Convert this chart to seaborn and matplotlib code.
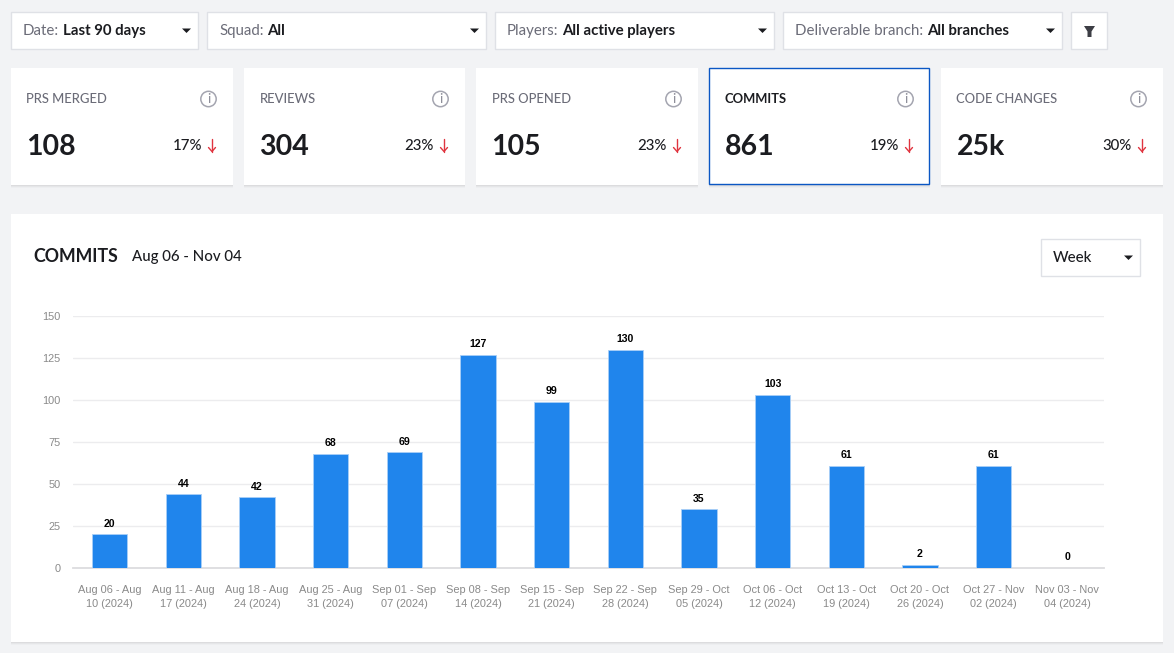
""" Recreate the commits dashboard with a weekly bar chart. """

# External imports
import pandas as pd
import seaborn as sns
import matplotlib.pyplot as plt
from matplotlib.patches import Circle, Polygon, Rectangle

# Chart data
weeks = [
    "Aug 06 - Aug\n10 (2024)", "Aug 11 - Aug\n17 (2024)", "Aug 18 - Aug\n24 (2024)",
    "Aug 25 - Aug\n31 (2024)", "Sep 01 - Sep\n07 (2024)", "Sep 08 - Sep\n14 (2024)",
    "Sep 15 - Sep\n21 (2024)", "Sep 22 - Sep\n28 (2024)", "Sep 29 - Oct\n05 (2024)",
    "Oct 06 - Oct\n12 (2024)", "Oct 13 - Oct\n19 (2024)", "Oct 20 - Oct\n26 (2024)",
    "Oct 27 - Nov\n02 (2024)", "Nov 03 - Nov\n04 (2024)",
]
commits = [20, 44, 42, 68, 69, 127, 99, 130, 35, 103, 61, 2, 61, 0]
y_ticks = [0, 25, 50, 75, 100, 125, 150]

# Filters and KPI cards
filter_names = ["Date:", "Squad:", "Players:", "Deliverable branch:"]
filter_values = ["Last 90 days", "All", "All active players", "All branches"]
kpi_names = ["PRS MERGED", "REVIEWS", "PRS OPENED", "COMMITS", "CODE CHANGES"]
kpi_values = ["108", "304", "105", "861", "25k"]
kpi_changes = ["17%", "23%", "23%", "19%", "30%"]

W, H = 1174, 653
UI_FONT = ["Lato", "DejaVu Sans"]
CHART_FONT = ["Liberation Sans", "DejaVu Sans"]
BG = "#f2f3f5"
BORDER = "#dfe1e6"
DARK = "#1b1c20"
GREY = "#6b6c78"
RED = "#e0343f"


def px(size):
    """ Convert a CSS pixel size to points. """
    return size * 0.72


def down_triangle(ax, x, y, color=DARK):
    """ Small dropdown caret centred on x, y. """
    ax.add_patch(Polygon([(x - 4.5, y - 2), (x + 4.5, y - 2), (x, y + 2.5)],
                         closed=True, color=color, lw=0))


def card_shadow(ax, x0, y0, x1, y1):
    """ Soft shadow along the lower edge of a card. """
    for off, alpha in [(3, 0.02), (2, 0.03), (1, 0.04)]:
        ax.add_patch(Rectangle((x0, y0 + off), x1 - x0, y1 - y0, fc="black", alpha=alpha, lw=0))


def filter_box(ax, x0, x1, name, value):
    """ One filter dropdown with a grey name and a bold value. """
    ax.add_patch(Rectangle((x0, 12), x1 - x0 - 1, 37, fc="white", ec=BORDER, lw=1))
    label = ax.text(x0 + 12, 31, name, color=GREY, fontsize=px(15),
                    family=UI_FONT, va="center")
    box = label.get_window_extent(ax.figure.canvas.get_renderer())
    ax.text(box.x1 + 4, 31, value, color=DARK, fontsize=px(15), family=UI_FONT,
            weight="bold", va="center")
    down_triangle(ax, x1 - 12.5, 30.5)


def kpi_card(ax, x0, x1, name, value, change, selected):
    """ One KPI card: title, info icon, big value, change and red arrow. """
    card_shadow(ax, x0, 68, x1, 185)
    ax.add_patch(Rectangle((x0, 68), x1 - x0, 117, fc="white", lw=0))
    if selected:
        ax.add_patch(Rectangle((x0, 68), x1 - x0 - 1, 116, fc="none", ec="#0b57c4", lw=1))
    ax.text(x0 + 15.5, 99, name, color=DARK if selected else GREY, fontsize=px(13),
            family=UI_FONT, weight="bold" if selected else "medium", va="center")
    ax.add_patch(Circle((x1 - 24.5, 99), 7.7, fc="white", ec="#a4a5b0", lw=1.1))
    ax.text(x1 - 24.5, 99, "i", color="#8e8f9a", fontsize=px(14), family=UI_FONT,
            ha="center", va="center")
    ax.text(x0 + 15.5, 147, value, color=DARK, fontsize=px(28.5), family=UI_FONT,
            weight="bold", va="center")
    ax.text(x1 - 31, 145.5, change, color=DARK, fontsize=px(15), family=UI_FONT,
            weight="medium", ha="right", va="center")
    # Red down arrow
    ax.plot([x1 - 21, x1 - 21], [139, 151.5], color=RED, lw=1.0, solid_capstyle="round")
    ax.plot([x1 - 24.5, x1 - 21, x1 - 17.5], [147.5, 151.5, 147.5], color=RED, lw=1.0,
            solid_capstyle="round")


def main() -> None:
    """ Main function. """

    sns.set_theme(style="white")
    fig = plt.figure(figsize=(W / 100, H / 100), dpi=100, facecolor=BG)

    # Full page axes measured in pixels, for the dashboard furniture
    page = fig.add_axes([0, 0, 1, 1], facecolor=BG)
    page.set_xlim(0, W)
    page.set_ylim(H, 0)
    page.axis("off")

    # Filter row
    filter_edges = [(11, 199), (207, 487), (495, 775), (783, 1063)]
    for (x0, x1), name, value in zip(filter_edges, filter_names, filter_values):
        filter_box(page, x0, x1, name, value)
    page.add_patch(Rectangle((1071, 12), 36, 37, fc="white", ec=BORDER, lw=1))
    page.add_patch(Polygon([(1084, 26), (1095, 26), (1091.5, 31.5), (1091.5, 37),
                            (1087.5, 37), (1087.5, 31.5)], closed=True, color="#3d3e45", lw=0))

    # KPI cards
    card_edges = [(11, 233), (244, 465), (476, 698), (709, 930), (941, 1163)]
    for i, (x0, x1) in enumerate(card_edges):
        kpi_card(page, x0, x1, kpi_names[i], kpi_values[i], kpi_changes[i],
                 kpi_names[i] == "COMMITS")

    # Chart card and header
    card_shadow(page, 11, 214, 1163, 642)
    page.add_patch(Rectangle((11, 214), 1152, 428, fc="white", lw=0))
    page.text(33, 256.5, "COMMITS", color=DARK, fontsize=px(17.8), family=UI_FONT,
              weight="bold", va="center")
    page.text(132, 256.5, "Aug 06 - Nov 04", color=DARK, fontsize=px(15), family=UI_FONT,
              weight="medium", va="center")
    page.add_patch(Rectangle((1041, 239), 99, 37, fc="white", ec=BORDER, lw=1))
    page.text(1052.5, 257.5, "Week", color=DARK, fontsize=px(15), family=UI_FONT,
              weight="medium", va="center")
    down_triangle(page, 1128.5, 257.5)

    # Bar chart, axes placed to the pixel rows of the plot area
    ax = fig.add_axes([73 / W, 1 - 568 / H, (1104 - 73) / W, (568 - 316) / H])
    ax.patch.set_alpha(0)
    df = pd.DataFrame({"week": weeks, "commits": commits})
    sns.barplot(df, x="week", y="commits", color="#2085ec", saturation=1, width=0.48,
                edgecolor="#a9cff7", linewidth=0.6, ax=ax, zorder=3)
    ax.set_ylim(0, 150)
    ax.set_xlim(-0.5, len(weeks) - 0.5)
    ax.set_xlabel("")
    ax.set_ylabel("")
    ax.set_yticks(y_ticks)
    ax.yaxis.grid(True, color="#ececee", lw=1)
    ax.set_axisbelow(True)
    sns.despine(ax=ax, left=True, right=True, top=True)
    ax.spines["bottom"].set_color("#dcdcdf")
    ax.spines["bottom"].set_linewidth(1.3)
    ax.tick_params(axis="both", length=0, colors="#8a8a8a", labelsize=px(11))
    ax.tick_params(axis="x", pad=12.5)
    ax.tick_params(axis="y", pad=9)
    for lab in ax.get_xticklabels():
        lab.set_family(CHART_FONT)
        lab.set_linespacing(1.5)
    for lab in ax.get_yticklabels():
        lab.set_family(CHART_FONT)
    ax.bar_label(ax.containers[0], fmt="%d", padding=4, color="black", fontsize=px(10.5),
                 fontweight="bold", family=CHART_FONT)

    fig.savefig("out.png", dpi=100, facecolor=BG)


if __name__ == "__main__":
    main()
